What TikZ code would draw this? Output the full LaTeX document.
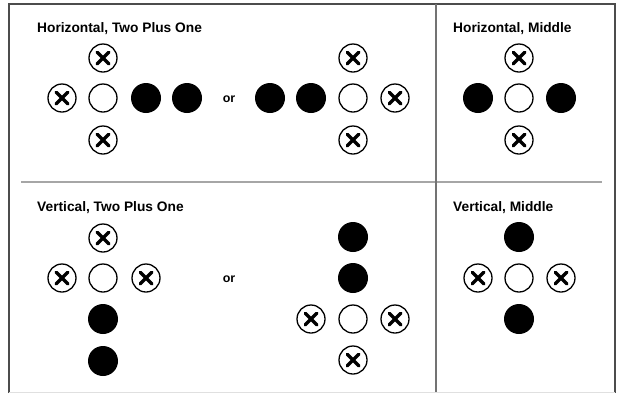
\documentclass[tikz,border=0pt]{standalone}
\usepackage{fontspec}
\setmainfont{Liberation Sans}
\begin{document}
\begin{tikzpicture}[x=1bp,y=-1bp,
  openc/.style={circle,draw=black,line width=1.3bp,minimum size=28bp,inner sep=0pt,fill=white},
  fullc/.style={circle,fill=black,minimum size=30bp,inner sep=0pt},
  xc/.style={openc, path picture={\draw[line width=3.4bp,line cap=round]
     ([shift={(-5.8bp,-5.8bp)}]path picture bounding box.center) -- ([shift={(5.8bp,5.8bp)}]path picture bounding box.center)
     ([shift={(-5.8bp,5.8bp)}]path picture bounding box.center) -- ([shift={(5.8bp,-5.8bp)}]path picture bounding box.center);}},
  title/.style={font=\bfseries\fontsize{13.8}{15}\selectfont, anchor=west, inner sep=0pt},
  ortext/.style={font=\bfseries\fontsize{12.5}{14}\selectfont, inner sep=0pt},
  frameline/.style={line width=1.3bp, draw=black!70},
  divline/.style={line width=1.6bp, draw=black!35}]
\useasboundingbox (0,0) rectangle (619,393);
\fill[white] (0,0) rectangle (619,393);
% frame
\draw[frameline] (9,393) -- (9,4) -- (615,4) -- (615,393);
\draw[divline] (21,182) -- (602,182);
\draw[line width=1.5bp, draw=black!55] (436,4) -- (436,393);
\draw[line width=0.6bp, draw=black!12] (9,392.5) -- (615,392.5);

% Horizontal, Two Plus One
\node[title] (t1) at (37,29) {Horizontal, Two Plus One};
\node[xc] (a1) at (103,58) {};
\node[xc] (a2) at (62,98) {};
\node[openc] (a3) at (103,98) {};
\node[fullc] (a4) at (146,98) {};
\node[fullc] (a5) at (187,98) {};
\node[xc] (a6) at (103,140) {};
\node[ortext] (or1) at (229,99) {or};
\node[fullc] (b1) at (270,98) {};
\node[fullc] (b2) at (311,98) {};
\node[openc] (b3) at (353,98) {};
\node[xc] (b4) at (395,98) {};
\node[xc] (b5) at (353,58) {};
\node[xc] (b6) at (353,140) {};

% Horizontal, Middle
\node[title] (t2) at (453,29) {Horizontal, Middle};
\node[xc] (c1) at (519,58) {};
\node[fullc] (c2) at (478,98) {};
\node[openc] (c3) at (519,98) {};
\node[fullc] (c4) at (561,98) {};
\node[xc] (c5) at (519,140) {};

% Vertical, Two Plus One
\node[title] (t3) at (37,208) {Vertical, Two Plus One};
\node[xc] (d1) at (103,238) {};
\node[xc] (d2) at (62,278) {};
\node[openc] (d3) at (103,278) {};
\node[xc] (d4) at (146,278) {};
\node[fullc] (d5) at (103,319) {};
\node[fullc] (d6) at (103,361) {};
\node[ortext] (or2) at (229,279) {or};
\node[fullc] (e1) at (353,237) {};
\node[fullc] (e2) at (353,278) {};
\node[xc] (e3) at (311,319) {};
\node[openc] (e4) at (353,319) {};
\node[xc] (e5) at (395,319) {};
\node[xc] (e6) at (353,360) {};

% Vertical, Middle
\node[title] (t4) at (453,208) {Vertical, Middle};
\node[fullc] (f1) at (519,237) {};
\node[xc] (f2) at (478,278) {};
\node[openc] (f3) at (519,278) {};
\node[xc] (f4) at (561,278) {};
\node[fullc] (f5) at (519,319) {};
\end{tikzpicture}
\end{document}
